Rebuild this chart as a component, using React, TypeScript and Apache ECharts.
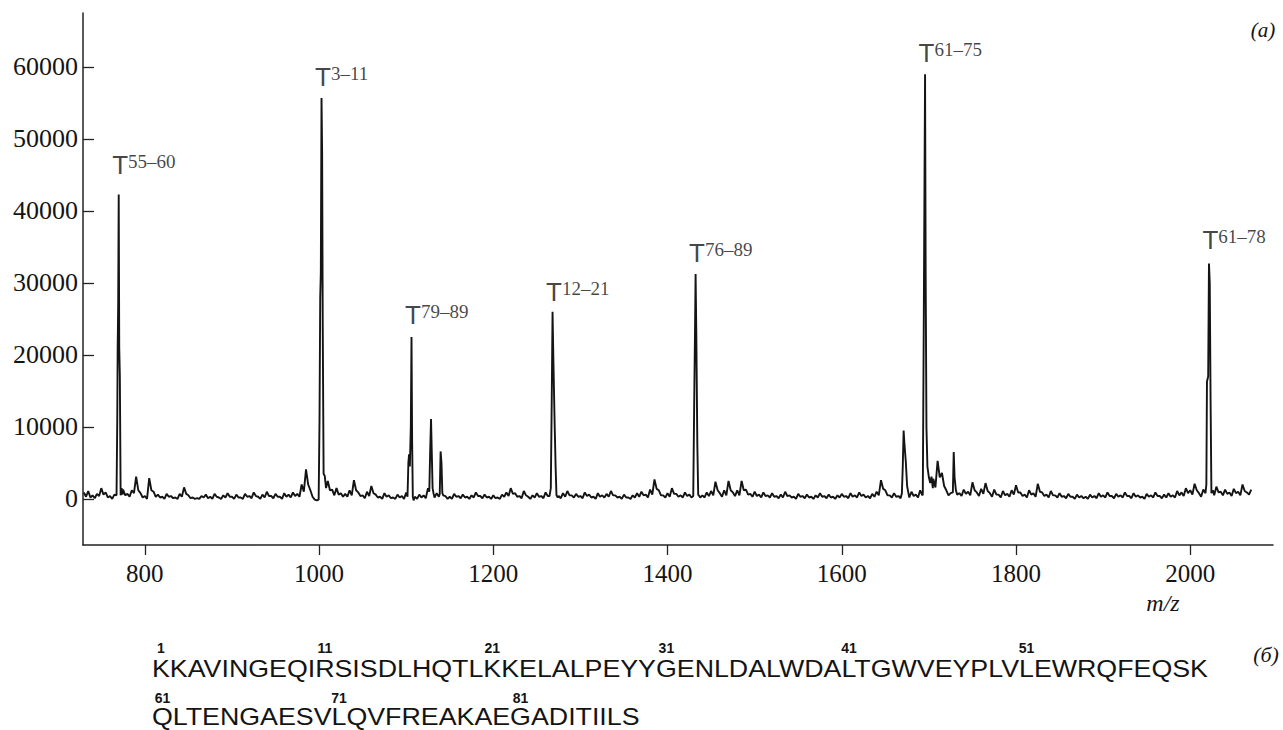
import React, { useEffect, useRef } from 'react';
import * as echarts from 'echarts';

// ---------- data ----------
// baseline samples at 730, 735, ... 2070
const noiseStartMz = 730;
const noiseStepMz = 5;
const noiseValues = [
  // 730 .. 825
  900, 1100, 500, 700, 1500, 900, 400, 600, 500, 1300, 700, 1200, 3100, 800, 400, 2900, 1000, 600, 300, 700,
  // 830 .. 925
  400, 200, 700, 1600, 500, 200, 100, 400, 600, 300, 700, 200, 500, 800, 300, 600, 200, 700, 400, 900,
  // 930 .. 1025
  300, 600, 1000, 400, 700, 300, 800, 600, 900, 700, 2000, 4100, 1200, -100, 500, 3000, 2500, 1300, 1500, 800,
  // 1030 .. 1125
  700, 1200, 2600, 900, 500, 1000, 1800, 600, 300, 800, 500, 200, 600, 400, 900, 500, 300, 600, 500, 1500,
  // 1130 .. 1225
  500, 800, 500, 400, 300, 700, 400, 600, 300, 500, 900, 400, 600, 300, 500, 200, 600, 900, 1500, 800,
  // 1230 .. 1325
  400, 1100, 300, 500, 800, 400, 900, 500, 500, 400, 800, 1100, 500, 700, 400, 900, 600, 300, 800, 500,
  // 1330 .. 1425
  700, 1100, 500, 300, 600, 200, 500, 800, 1000, 600, 1300, 2700, 1200, 500, 800, 1500, 700, 500, 900, 600,
  // 1430 .. 1525
  500, 500, 500, 900, 1100, 2400, 800, 1200, 2500, 900, 1200, 2500, 1300, 700, 1000, 600, 900, 500, 800, 400,
  // 1530 .. 1625
  600, 1000, 500, 300, 700, 400, 600, 300, 500, 800, 400, 600, 300, 500, 700, 400, 800, 500, 900, 600,
  // 1630 .. 1725
  400, 700, 1000, 2600, 1200, 500, 800, 400, 500, 500, 1000, 600, 1200, 1000, 1000, 2800, 5300, 3600, 1200, 800,
  // 1730 .. 1825
  800, 800, 1300, 1000, 2300, 900, 1400, 2200, 800, 1300, 600, 1100, 700, 1200, 1900, 900, 600, 1200, 800, 2100,
  // 1830 .. 1925
  900, 600, 1100, 500, 800, 400, 700, 300, 600, 400, 300, 600, 400, 800, 500, 900, 400, 700, 500, 900,
  // 1930 .. 2025
  400, 800, 500, 300, 700, 500, 900, 400, 600, 800, 500, 1100, 900, 1500, 1200, 2100, 800, 1300, 1000, 1000,
  // 2030 .. 2070
  1700, 1000, 1300, 900, 1400, 1000, 2000, 900, 1300,
];
// baseline samples in between, at 732.5, 737.5, ... 2067.5
const noiseHalfStartMz = 732.5;
const noiseHalfValues = [
  // 732.5 .. 827.5
  300, 200, 100, 400, 600, 200, 0, 300, 300, 500, 300, 800, 1200, 200, 0, 1200, 300, 200, 0, 300,
  // 832.5 .. 927.5
  100, 0, 300, 700, 100, 0, 0, 200, 100, 0, 300, 0, 200, 300, 0, 200, 0, 300, 100, 400,
  // 932.5 .. 1027.5
  0, 200, 400, 100, 300, 0, 300, 200, 400, 300, 1000, 2000, 300, -200, 0, 1500, 1200, 500, 600, 300,
  // 1032.5 .. 1127.5
  300, 500, 1200, 400, 100, 400, 800, 200, 0, 300, 100, 0, 200, 0, 300, 100, 0, 200, 100, 700,
  // 1132.5 .. 1227.5
  200, 300, 100, 0, 0, 300, 100, 200, 0, 200, 400, 100, 200, 0, 100, 0, 300, 400, 700, 300,
  // 1232.5 .. 1327.5
  100, 500, 0, 200, 300, 100, 400, 200, 200, 100, 300, 500, 200, 300, 100, 400, 200, 0, 300, 200,
  // 1332.5 .. 1427.5
  300, 500, 200, 0, 200, 0, 200, 300, 500, 200, 600, 1400, 500, 200, 300, 700, 300, 200, 400, 200,
  // 1432.5 .. 1527.5
  200, 200, 200, 400, 500, 1200, 300, 500, 1200, 400, 500, 1200, 600, 300, 400, 200, 400, 200, 300, 100,
  // 1532.5 .. 1627.5
  200, 400, 200, 0, 300, 100, 200, 0, 200, 300, 100, 200, 0, 200, 300, 100, 300, 200, 400, 200,
  // 1632.5 .. 1727.5
  100, 300, 500, 1400, 500, 200, 300, 100, 200, 200, 400, 200, 500, 500, 500, 1600, 3000, 1800, 500, 300,
  // 1732.5 .. 1827.5
  300, 400, 700, 500, 1200, 400, 700, 1100, 300, 600, 200, 500, 300, 600, 900, 400, 200, 600, 300, 1000,
  // 1832.5 .. 1927.5
  400, 200, 500, 200, 300, 100, 300, 0, 200, 100, 0, 200, 100, 300, 200, 400, 100, 300, 200, 400,
  // 1932.5 .. 2027.5
  100, 300, 200, 0, 300, 200, 400, 100, 200, 300, 200, 500, 400, 800, 600, 1200, 300, 600, 500, 500,
  // 2032.5 .. 2067.5
  900, 500, 700, 400, 800, 500, 1100, 600,
];

const peakT55_60 = [[767.5, 500], [768.3, 10500], [768.8, 21000], [769.4, 27000], [770.0, 42300], [770.6, 21000], [771.3, 17000], [772.2, 500], [773.3, 1500], [774.3, 600]];
const peakT3_11 = [[999.5, -100], [1000.5, 11000], [1001.3, 28000], [1002.0, 31500], [1002.8, 55700], [1003.5, 48000], [1004.2, 24000], [1005.2, 3500], [1006.5, 3200], [1008, 1500]];
const peakT79_89 = [[1101.5, 300], [1102.5, 5000], [1103.3, 6200], [1104.2, 4500], [1105.3, 10000], [1106.1, 22500], [1106.8, 8000], [1107.6, 300], [1108.5, -200]];
const peak1129 = [[1126.5, 1000], [1127.5, 6500], [1128.5, 11100], [1129.3, 6800], [1130.3, 1500], [1131.5, 700]];
const peak1140 = [[1138.5, 700], [1139.5, 6600], [1140.5, 5000], [1141.5, 800], [1142.5, 500]];
const peakT12_21 = [[1264.5, 400], [1266, 1500], [1267, 13000], [1268, 26000], [1269, 19000], [1270.5, 9900], [1271.5, 4500], [1272.5, 500], [1274, 200]];
const peakT76_89 = [[1429.5, 400], [1430.8, 15700], [1431.5, 23000], [1432.2, 31250], [1433, 23200], [1434.2, 7500], [1435.2, 600], [1437, 300]];
const peak1673 = [[1669, 800], [1670, 4500], [1671, 9500], [1672, 7500], [1673.5, 5200], [1675, 1800], [1677, 500]];
const peakT61_75 = [[1693, 600], [1694.2, 26300], [1695, 45000], [1695.6, 59000], [1696.3, 31000], [1697.2, 9900], [1698.3, 4500], [1700, 3000], [1701.5, 2200], [1703, 3100], [1704.5, 1500]];
const peak1729 = [[1727.5, 900], [1728.5, 6500], [1729.5, 3000], [1731, 1200], [1732.5, 600]];
const peakT61_78 = [[2017.5, 800], [2018.5, 2000], [2019.2, 16300], [2020.6, 17000], [2021.5, 32700], [2022.4, 30000], [2023.4, 13000], [2024.3, 800], [2026, 1200]];

const peakGroups = [peakT55_60, peakT3_11, peakT79_89, peak1129, peak1140, peakT12_21, peakT76_89, peak1673, peakT61_75, peak1729, peakT61_78];

const peakLabelNames = ['55–60', '3–11', '79–89', '12–21', '76–89', '61–75', '61–78'];
const peakLabelMz = [770.0, 1002.8, 1106.1, 1268, 1432.2, 1695.6, 2021.5];
const peakLabelValue = [44600, 56800, 23750, 26950, 32360, 60140, 34170];

const xTickValues = [800, 1000, 1200, 1400, 1600, 1800, 2000];
const yTickValues = [0, 10000, 20000, 30000, 40000, 50000, 60000];

const xAxisName = 'm/z';
const panelA = '(a)';
const panelB = '(б)';
const sequenceLine1 = 'KKAVINGEQIRSISDLHQTLKKELALPEYYGENLDALWDALTGWVEYPLVLEWRQFEQSK';
const sequenceLine2 = 'QLTENGAESVLQVFREAKAEGADITIILS';
const sequenceLine1First = 1;
const sequenceLine2First = 61;

// ---------- helpers ----------
function buildSpectrum() {
  const ranges = peakGroups.map((g) => [g[0][0], g[g.length - 1][0]]);
  const pts: number[][] = [];
  const keep = (mz: number) => !ranges.some(([a, b]) => mz >= a && mz <= b);
  noiseValues.forEach((v, i) => {
    const mz = noiseStartMz + i * noiseStepMz;
    if (keep(mz)) pts.push([mz, v]);
  });
  noiseHalfValues.forEach((v, i) => {
    const mz = noiseHalfStartMz + i * noiseStepMz;
    if (keep(mz)) pts.push([mz, v]);
  });
  peakGroups.forEach((g) => g.forEach((p) => pts.push([p[0], p[1]])));
  pts.sort((a, b) => a[0] - b[0]);
  return pts;
}

let measureCtx: CanvasRenderingContext2D | null = null;
function measure(text: string, font: string) {
  if (!measureCtx) measureCtx = document.createElement('canvas').getContext('2d');
  measureCtx!.font = font;
  return measureCtx!.measureText(text).width;
}

const SEQ_FONT = '24px "Liberation Sans"';
const NUM_FONT = 'bold 14px "Liberation Sans"';
const INK = '#141414';

function sequenceGraphics() {
  const startX = 152;
  const endX1 = 1208;
  const w1 = measure(sequenceLine1, SEQ_FONT);
  const sx = (endX1 - startX) / w1;
  const els: any[] = [];
  const lines = [
    { text: sequenceLine1, first: sequenceLine1First, y: 668.5, ny: 647.5 },
    { text: sequenceLine2, first: sequenceLine2First, y: 717, ny: 697.5 },
  ];
  lines.forEach((ln) => {
    els.push({
      type: 'text', x: startX, y: ln.y, scaleX: sx, silent: true,
      style: { text: ln.text, font: SEQ_FONT, fill: INK, textAlign: 'left', textVerticalAlign: 'middle', verticalAlign: 'middle' },
    });
    for (let k = 0; k < ln.text.length; k += 10) {
      const pre = measure(ln.text.slice(0, k), SEQ_FONT);
      const cw = measure(ln.text[k], SEQ_FONT);
      const cx = startX + sx * (pre + cw / 2);
      els.push({
        type: 'text', x: cx, y: ln.ny, silent: true,
        style: { text: String(ln.first + k), font: NUM_FONT, fill: INK, textAlign: 'center', textVerticalAlign: 'middle', verticalAlign: 'middle' },
      });
    }
  });
  return els;
}

export default function App() {
  const ref = useRef<HTMLDivElement>(null);
  useEffect(() => {
    if (!ref.current) return;
    const chart = echarts.init(ref.current, undefined, { renderer: 'svg' });
    const spectrum = buildSpectrum();
    const labelData = peakLabelMz.map((mz, i) => ({ value: [mz, peakLabelValue[i]], name: peakLabelNames[i] }));
    const serifLabel = { fontFamily: 'Liberation Serif', color: INK };
    chart.setOption({
      animation: false,
      backgroundColor: '#ffffff',
      grid: { left: 83, right: 10, top: 13, bottom: 185, containLabel: false },
      xAxis: {
        type: 'value', min: 729, max: 2095,
        axisLine: { show: true, onZero: false, lineStyle: { color: '#222', width: 1.5 } },
        axisTick: { show: true, inside: false, length: 10, customValues: xTickValues, lineStyle: { color: '#222', width: 1.3 } },
        axisLabel: { customValues: xTickValues, formatter: (v: number) => String(v), fontSize: 25, margin: 16, ...serifLabel },
        splitLine: { show: false },
      },
      yAxis: {
        type: 'value', min: -6400, max: 67500,
        axisLine: { show: true, onZero: false, lineStyle: { color: '#222', width: 1.5 } },
        axisTick: { show: true, inside: true, length: 11, customValues: yTickValues, lineStyle: { color: '#222', width: 1.3 } },
        axisLabel: { customValues: yTickValues, formatter: (v: number) => String(v), fontSize: 26, margin: 5, ...serifLabel },
        splitLine: { show: false },
      },
      series: [
        {
          type: 'line', data: spectrum, showSymbol: false, symbol: 'none', silent: true,
          lineStyle: { color: INK, width: 1.9 }, z: 2,
        },
        {
          type: 'scatter', data: labelData, symbolSize: 0, silent: true, z: 3,
          itemStyle: { color: INK },
          label: {
            show: true, position: 'top', distance: 0, align: 'left', verticalAlign: 'bottom', offset: [-6.5, 0],
            color: INK,
            formatter: (p: any) => '{t|T}{s|' + p.name + '}',
            rich: {
              t: { fontFamily: 'Liberation Sans', fontSize: 26, lineHeight: 26, color: INK },
              s: { fontFamily: 'Liberation Serif', fontSize: 19, lineHeight: 19, color: INK, verticalAlign: 'top' },
            },
          },
        },
      ],
      graphic: [
        { type: 'text', x: 1263, y: 30, silent: true, style: { text: panelA, font: 'italic 21px "Liberation Serif"', fill: INK, textAlign: 'center', textVerticalAlign: 'middle', verticalAlign: 'middle' } },
        { type: 'text', x: 1163, y: 603, silent: true, style: { text: xAxisName, font: 'italic 24px "Liberation Serif"', fill: INK, textAlign: 'center', textVerticalAlign: 'middle', verticalAlign: 'middle' } },
        { type: 'text', x: 1266, y: 654, silent: true, style: { text: panelB, font: 'italic 22px "Liberation Serif"', fill: INK, textAlign: 'center', textVerticalAlign: 'middle', verticalAlign: 'middle' } },
        ...sequenceGraphics(),
      ],
    });
    return () => chart.dispose();
  }, []);
  return <div ref={ref} style={{ position: 'fixed', left: 0, top: 0, width: 1283, height: 730, background: '#fff' }} />;
}
